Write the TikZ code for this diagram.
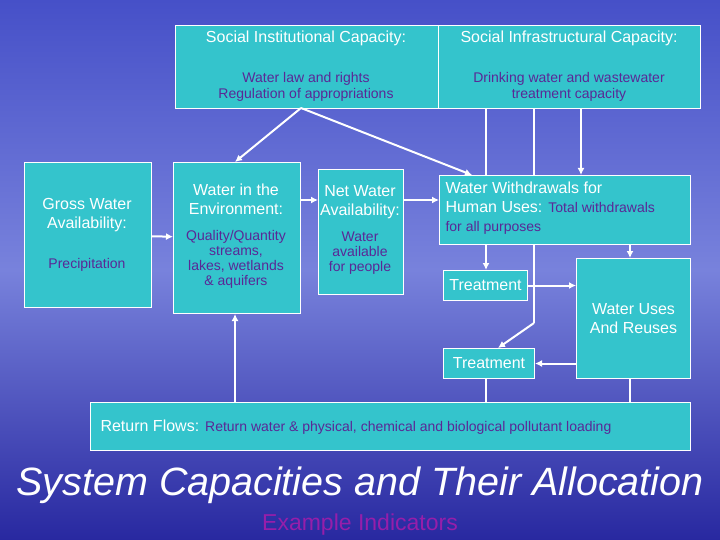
\documentclass[tikz,border=0pt]{standalone}
\usepackage{fontspec}
\setmainfont{Liberation Sans}
\usetikzlibrary{positioning,arrows.meta}
\definecolor{bgtop}{RGB}{70,80,200}
\definecolor{bgmid}{RGB}{120,130,220}
\definecolor{bgbot}{RGB}{40,40,160}
\definecolor{teal}{RGB}{52,196,204}
\definecolor{detail}{RGB}{90,40,150}
\definecolor{indic}{RGB}{150,30,170}
\tikzset{
  >={Latex[length=7pt,width=7pt]},
  box/.style ={draw=white, fill=teal, line width=1pt, text=white, align=center, inner sep=2pt},
  link/.style={white, line width=2pt},
}
\newcommand{\dt}[1]{{\color{detail}\fontsize{14}{16}\selectfont #1}}
\begin{document}
\begin{tikzpicture}[x=1pt,y=-1pt,font=\fontsize{16}{19}\selectfont]
  % background
  \shade[top color=bgtop, bottom color=bgbot, middle color=bgmid] (0,0) rectangle (720,540);
  \useasboundingbox (0,0) rectangle (720,540);

  % top row
  \node[box, minimum width=263, minimum height=83, anchor=north west] (inst) at (175,25) {};
  \node[box, minimum width=262, minimum height=83, anchor=north west] (infra) at (438,25) {};
  \node[text=white] at (306,38) {Social Institutional Capacity:};
  \node[text=white] at (569,38) {Social Infrastructural Capacity:};
  \node[align=center] at (306,87) {\dt{Water law and rights}\\[-3pt]\dt{Regulation of appropriations}};
  \node[align=center] at (569,87) {\dt{Drinking water and wastewater}\\[-3pt]\dt{treatment capacity}};

  % middle row
  \node[box, minimum width=127, minimum height=145, anchor=north west] (gross) at (24,162) {};
  \node[text=white, align=center] at (87,215) {Gross Water\\Availability:};
  \node at (87,265) {\dt{Precipitation}};
  \node[box, minimum width=127, minimum height=151, anchor=north west] (env) at (173,162) {};
  \node[text=white, align=center] at (236,199) {Water in the\\Environment:};
  \node[align=center] at (236,259) {\dt{Quality/Quantity}\\[-4pt]\dt{streams,}\\[-4pt]\dt{lakes, wetlands}\\[-4pt]\dt{\& aquifers}};
  \node[box, minimum width=85, minimum height=125, anchor=north west] (net) at (318,169) {};
  \node[text=white, align=center] at (360,202) {Net Water\\Availability:};
  \node[align=center] at (360,253) {\dt{Water}\\[-4pt]\dt{available}\\[-4pt]\dt{for people}};
  \node[box, minimum width=251, minimum height=69, anchor=north west] (wd) at (439,175) {};
  \node[text=white, align=left, anchor=north west] at (442,178) {Water Withdrawals for\\Human Uses: \dt{Total withdrawals}\\\dt{for all purposes}};

  % lower right
  \node[box, minimum width=84, minimum height=30, anchor=north west] (tr1) at (443,270) {Treatment};
  \node[box, minimum width=114, minimum height=120, anchor=north west] (use) at (576,258) {Water Uses\\And Reuses};
  \node[box, minimum width=91, minimum height=30, anchor=north west] (tr2) at (443,348) {Treatment};
  \node[box, minimum width=600, minimum height=48, anchor=north west] (ret) at (90,402) {};
  \node[text=white, anchor=west] at (97,427) {Return Flows: \dt{Return water \& physical, chemical and biological pollutant loading}};

  % connectors
  \coordinate (src) at (301,108);
  \draw[link,->] (src) -- (235,162);
  \draw[link,->] (src) -- (472,175);
  \draw[link] (486,108) -- (486,175);
  \draw[link] (534,108) -- (534,175);
  \draw[link,->] (581,108) -- (581,175);
  \draw[link,->] (gross) -- (env);
  \draw[link,->] (env.east |- 0,200) -- (net.west |- 0,200);
  \draw[link,->] (net.east |- 0,200) -- (wd.west |- 0,200);
  \draw[link,->] (486,244) -- (tr1.north -| 486,0);
  \draw[link,->] (630,244) -- (use.north -| 630,0);
  \draw[link] (534,244) -- (534,323);
  \draw[link,->] (534,323) -- (498,348);
  \draw[link,->] (tr1.east) -- (tr1.east -| use.west);
  \draw[link,->] (use.west |- tr2.east) -- (tr2.east);
  \draw[link] (tr2.south -| 486,0) -- (ret.north -| 486,0);
  \draw[link] (use.south -| 630,0) -- (ret.north -| 630,0);
  \draw[link,->] (ret.north -| 235,0) -- (env.south -| 235,0);

  % titles
  \node[text=white, font=\fontsize{39.5}{42}\selectfont\itshape] (title) at (360,485) {System Capacities and Their Allocation};
  \node[text=indic, font=\fontsize{23}{25}\selectfont] (sub) at (360,525) {Example Indicators};
\end{tikzpicture}
\end{document}
